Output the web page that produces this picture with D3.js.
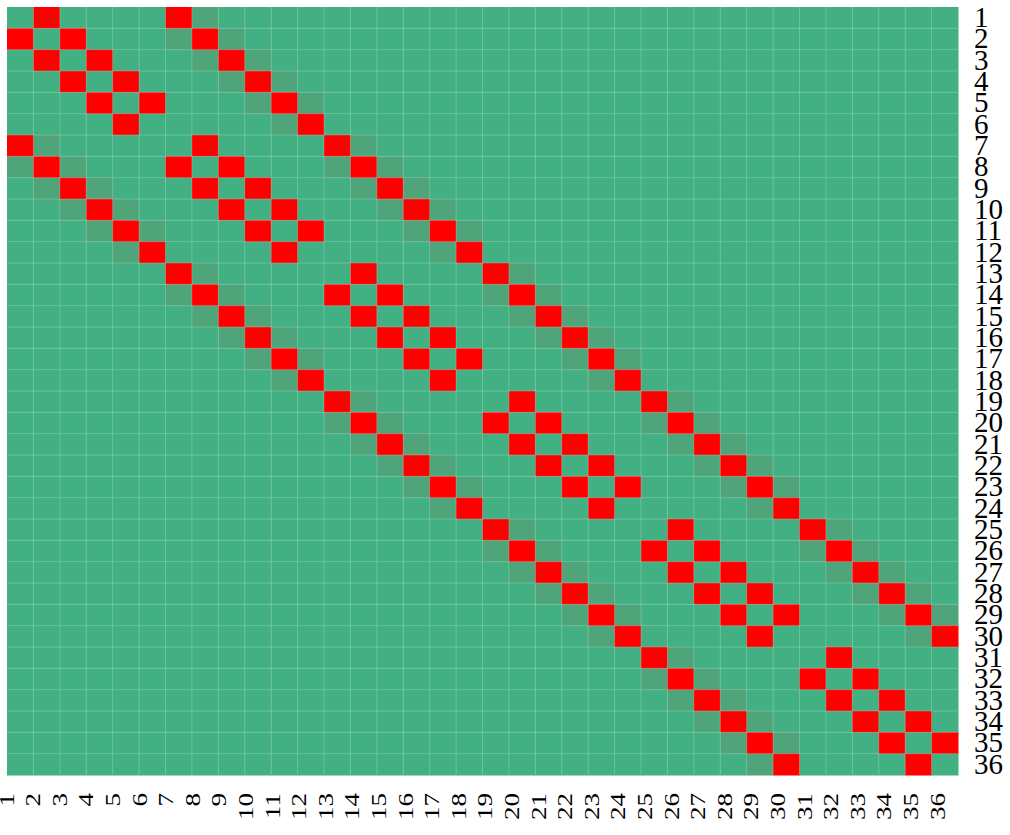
<!DOCTYPE html>
<html>
<head>
<meta charset="utf-8">
<script src="https://cdn.jsdelivr.net/npm/d3@7"></script>
<style>
  body { margin: 0; background: #fff; }
  svg { display: block; }
  .lab text { font-family: "Liberation Serif", "DejaVu Serif", serif; fill: #000; }
</style>
</head>
<body>
<div id="chart"></div>
<script>
// node labels 1..36
const labels = ["1","2","3","4","5","6","7","8","9","10","11","12","13","14","15","16","17","18",
  "19","20","21","22","23","24","25","26","27","28","29","30","31","32","33","34","35","36"];

// red cells per row (strong links)
const strong = [
  [2,7],[1,3,8],[2,4,9],[3,5,10],[4,6,11],[5,12],
  [1,8,13],[2,7,9,14],[3,8,10,15],[4,9,11,16],[5,10,12,17],[6,11,18],
  [7,14,19],[8,13,15,20],[9,14,16,21],[10,15,17,22],[11,16,18,23],[12,17,24],
  [13,20,25],[14,19,21,26],[15,20,22,27],[16,21,23,28],[17,22,24,29],[18,23,30],
  [19,26,31],[20,25,27,32],[21,26,28,33],[22,27,29,34],[23,28,30,35],[24,29,36],
  [25,32],[26,31,33],[27,32,34],[28,33,35],[29,34,36],[30,35]
];

// faint darker cells per row (weak links)
const weak = [
  [8],[7,9],[8,10],[9,11],[10,12],[11],
  [2,14],[1,3,13,15],[2,4,14,16],[3,5,15,17],[4,6,16,18],[5,17],
  [8,20],[7,9,19,21],[8,10,20,22],[9,11,21,23],[10,12,22,24],[11,23],
  [14,26],[13,15,25,27],[14,16,26,28],[15,17,27,29],[16,18,28,30],[17,29],
  [20,32],[19,21,31,33],[20,22,32,34],[21,23,33,35],[22,24,34,36],[23,35],
  [26],[25,27],[26,28],[27,29],[28,30],[29]
];

const strongValue = 1;
const weakValue = 0.07;

const width = 1010;
const height = 835;
const plotLeft = 7, plotRight = 958, plotTop = 7, plotBottom = 775;

const cells = [];
labels.forEach((row, i) => {
  labels.forEach((col, j) => {
    let v = 0;
    if (strong[i].includes(j + 1)) v = strongValue;
    else if (weak[i].includes(j + 1)) v = weakValue;
    cells.push({ row, col, v });
  });
});

const svg = d3.select("#chart").append("svg")
  .attr("width", width)
  .attr("height", height);

const x = d3.scaleBand().domain(labels).range([plotLeft, plotRight]);
const y = d3.scaleBand().domain(labels).range([plotTop, plotBottom]);
const color = d3.scaleLinear().domain([0, 1]).range(["#42b083", "#ff0000"]);

svg.append("g")
  .selectAll("rect")
  .data(cells)
  .join("rect")
  .attr("x", d => x(d.col))
  .attr("y", d => y(d.row))
  .attr("width", x.bandwidth() + 0.5)
  .attr("height", y.bandwidth() + 0.5)
  .attr("fill", d => color(d.v));

// light cell borders
const grid = svg.append("g")
  .attr("stroke", "#fff")
  .attr("stroke-opacity", 0.22)
  .attr("stroke-width", 1);

grid.selectAll("line.v")
  .data(labels.slice(1))
  .join("line")
  .attr("class", "v")
  .attr("x1", d => x(d)).attr("x2", d => x(d))
  .attr("y1", plotTop).attr("y2", plotBottom);

grid.selectAll("line.h")
  .data(labels.slice(1))
  .join("line")
  .attr("class", "h")
  .attr("y1", d => y(d)).attr("y2", d => y(d))
  .attr("x1", plotLeft).attr("x2", plotRight);

// right-hand labels
const yAxis = svg.append("g")
  .attr("class", "lab")
  .attr("transform", `translate(${plotRight},0)`)
  .call(d3.axisRight(y).tickSize(0).tickPadding(16));
yAxis.select(".domain").remove();
yAxis.attr("font-family", null);
yAxis.selectAll("text")
  .style("font-size", "29px");

// bottom labels, rotated
const xLab = d3.scalePoint().domain(labels).range([13, 944]);
const xAxis = svg.append("g")
  .attr("class", "lab")
  .attr("transform", `translate(0,${plotBottom})`)
  .call(d3.axisBottom(xLab).tickSize(0));
xAxis.select(".domain").remove();
xAxis.attr("font-family", null);
xAxis.selectAll("text")
  .style("font-size", "27px")
  .attr("text-anchor", "end")
  .attr("x", -18)
  .attr("y", 0)
  .attr("dy", 0)
  .attr("transform", "rotate(-90) scale(1,0.8)");
</script>
</body>
</html>
